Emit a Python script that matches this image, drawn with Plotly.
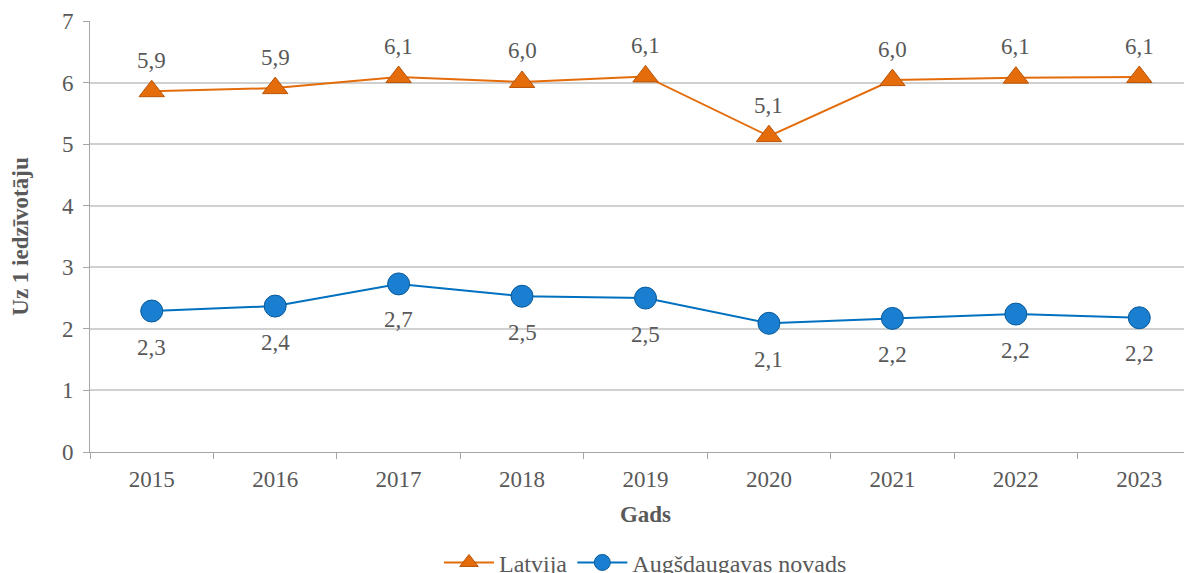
import plotly.graph_objects as go

years = ["2015", "2016", "2017", "2018", "2019", "2020", "2021", "2022", "2023"]
latvija = [5.86, 5.91, 6.09, 6.01, 6.10, 5.13, 6.04, 6.08, 6.09]
augsdaugavas = [2.29, 2.37, 2.73, 2.53, 2.50, 2.09, 2.17, 2.24, 2.18]

font_family = "Times New Roman"
txt_color = "#595959"


def lab(v):
    return f"{v:.1f}".replace(".", ",")


fig = go.Figure()
fig.add_trace(go.Scatter(
    x=years, y=latvija, name="Latvija", mode="lines+markers",
    line=dict(color="#E46C0A", width=2),
    marker=dict(symbol="triangle-up", size=22, color="#E46C0A",
                line=dict(color="#B85408", width=1)),
))
fig.add_trace(go.Scatter(
    x=years, y=augsdaugavas, name="Augšdaugavas novads", mode="lines+markers",
    line=dict(color="#0070C0", width=2),
    marker=dict(symbol="circle", size=22, color="#1A7FD0",
                line=dict(color="#0A5A9A", width=1)),
))

annotations = []
for i, v in enumerate(latvija):
    annotations.append(dict(x=i, y=v, xref="x", yref="y", text=lab(v), showarrow=False,
                            yshift=31, font=dict(size=23, color=txt_color, family=font_family)))
for i, v in enumerate(augsdaugavas):
    annotations.append(dict(x=i, y=v, xref="x", yref="y", text=lab(v), showarrow=False,
                            yshift=-36, font=dict(size=23, color=txt_color, family=font_family)))

fig.update_layout(
    width=1193, height=565,
    separators=",.",
    paper_bgcolor="white", plot_bgcolor="white",
    margin=dict(l=82, r=0, t=13, b=121, autoexpand=False),
    font=dict(family=font_family, size=23, color=txt_color),
    showlegend=True,
    annotations=annotations,
    legend=dict(orientation="h", x=0.5, xanchor="center", y=-0.205, yanchor="top",
                itemwidth=50,
                font=dict(size=24, color=txt_color, family=font_family)),
    xaxis=dict(
        type="category", categoryorder="array", categoryarray=years,
        range=[-0.5, len(years) - 0.5], autorange=False,
        showgrid=False, showline=True, linecolor="#A6A6A6", linewidth=1,
        ticks="outside", tickson="boundaries", ticklen=6, tickcolor="#A6A6A6",
        tickfont=dict(size=23, color=txt_color, family=font_family), tickangle=0,
        ticklabelstandoff=6, automargin=False,
        title=dict(text="<b>Gads</b>", font=dict(size=23, color=txt_color, family=font_family), standoff=15),
    ),
    yaxis=dict(
        range=[0, 7], dtick=1, showgrid=True, gridcolor="#D0D0D0", gridwidth=1.5,
        showline=True, linecolor="#A6A6A6", linewidth=1,
        ticks="outside", ticklen=6, tickcolor="#A6A6A6",
        tickfont=dict(size=23, color=txt_color, family=font_family),
        ticklabelstandoff=5, automargin=False,
        title=dict(text="<b>Uz 1 iedzīvotāju</b>", font=dict(size=23, color=txt_color, family=font_family), standoff=30),
        zeroline=False,
    ),
)

fig.write_html("out.html")
